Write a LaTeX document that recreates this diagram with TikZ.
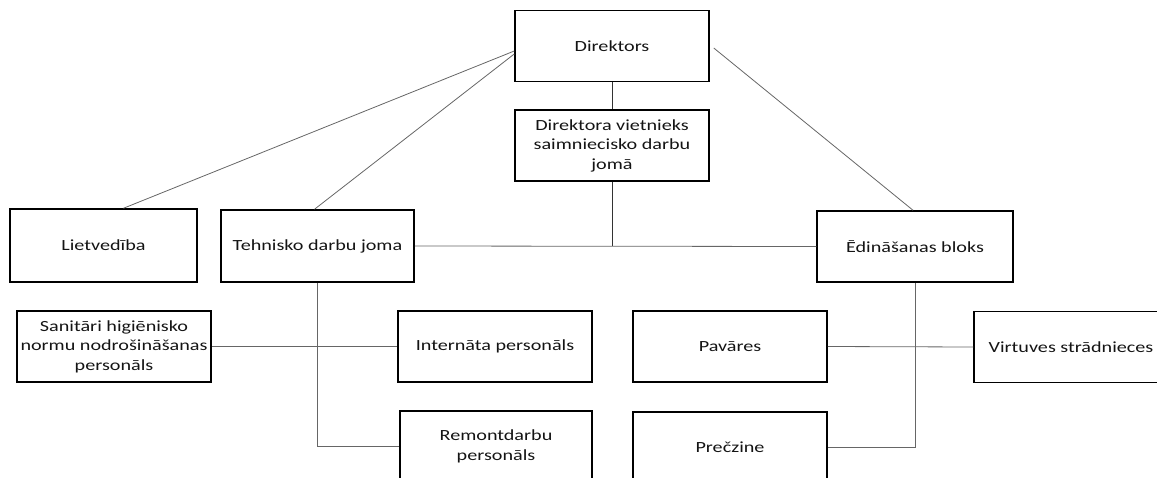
\documentclass[tikz,border=0pt]{standalone}
\usepackage{fontspec}
\setmainfont[FakeStretch=1.3]{Carlito}
\begin{document}
\begin{tikzpicture}[x=1pt,y=-1pt,
  box/.style={draw=black,line width=1.5pt,minimum width=194pt,minimum height=71pt,
    inner sep=0pt,align=center,text=black!92,
    font=\fontsize{15.5}{19.5}\selectfont},
  conn/.style={draw=black!60,line width=0.8pt},
  darkconn/.style={draw=black!80,line width=0.8pt}]
\useasboundingbox (0,0) rectangle (1157,477);
\clip (0,0) rectangle (1157,477);
\node[box] (dir) at (612,46) {Direktors};
\node[box] (vie) at (612,145.5) {Direktora vietnieks\\saimniecisko darbu\\jomā};
\node[box,minimum width=187pt,minimum height=73pt] (lie) at (103.5,245.5) {Lietvedība};
\node[box,minimum width=193pt,minimum height=72pt] (teh) at (317.5,246) {Tehnisko darbu joma};
\node[box,minimum width=196pt] (edi) at (915,246.5) {Ēdināšanas bloks};
\node[box] (san) at (114,346.5) {Sanitāri higiēnisko\\normu nodrošināšanas\\personāls};
\node[box] (int) at (495,346.5) {Internāta personāls};
\node[box,minimum width=192pt] (rem) at (496,446.5) {Remontdarbu\\personāls};
\node[box] (pav) at (730,346.5) {Pavāres};
\node[box] (pre) at (730,447.5) {Prečzine};
\node[box] (vir) at (1071,347) {Virtuves strādnieces};
\draw[conn] ([yshift=-5pt]dir.west) -- ([xshift=20pt]lie.north);
\draw[conn] ([yshift=-8pt]dir.west) -- ([xshift=-3pt]teh.north);
\draw[conn] ([xshift=4pt,yshift=-2pt]dir.east) -- ([xshift=-2pt]edi.north);
\draw[darkconn] (dir) -- (vie);
\draw[darkconn] (vie.south) -- (vie.south |- teh.east);
\draw[conn] (teh.east) -- (edi.west);
\draw[conn] (teh.south) |- (rem.west);
\draw[conn] (san.east) -- (int.west);
\draw[conn] (edi.south) |- (pre.east);
\draw[conn] (pav.east) -- (vir.west);
\end{tikzpicture}
\end{document}
